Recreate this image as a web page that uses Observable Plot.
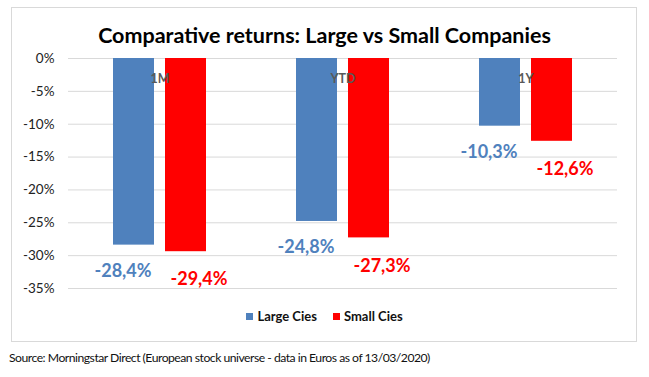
<!DOCTYPE html>
<html>
<head>
<meta charset="utf-8">
<script src="https://cdn.jsdelivr.net/npm/d3@7"></script>
<script src="https://cdn.jsdelivr.net/npm/@observablehq/plot@0.6"></script>
<style>
  html, body { margin: 0; padding: 0; background: #fff; }
  body { width: 649px; height: 377px; position: relative; overflow: hidden; font-family: Lato, "Open Sans", sans-serif; }
  #frame { position: absolute; left: 11px; top: 7px; width: 624px; height: 333px; border: 1px solid #d9d9d9; box-sizing: content-box; }
  #chart { position: absolute; left: 0; top: 0; }
  #title { position: absolute; left: 0; width: 649px; top: 21px; text-align: center; font-weight: bold; font-size: 21.5px; color: #000; line-height: 28px; }
  #legend { position: absolute; left: 0; width: 649px; top: 308px; text-align: center; font-size: 13px; font-weight: bold; color: #111; line-height: 16px; }
  #legend span.item { display: inline-block; margin: 0 8px; }
  #legend span.sw { display: inline-block; width: 7px; height: 7px; margin-right: 4px; vertical-align: 1px; }
  #caption { position: absolute; left: 9px; top: 349px; font-size: 12.2px; letter-spacing: -0.5px; color: #111; line-height: 18px; }
</style>
</head>
<body>
<div id="frame"></div>
<div id="chart"></div>
<div id="title">Comparative returns: Large vs Small Companies</div>
<div id="legend"></div>
<div id="caption">Source: Morningstar Direct (European stock universe - data in Euros as of 13/03/2020)</div>
<script>
const categories = ["1M", "YTD", "1Y"];
const seriesNames = ["Large Cies", "Small Cies"];
const largeCies = [-28.4, -24.8, -10.3];
const smallCies = [-29.4, -27.3, -12.6];
const yTicks = [0, -5, -10, -15, -20, -25, -30, -35];
const seriesColors = ["#4F81BD", "#FF0000"];

const rows = [];
categories.forEach((c, i) => {
  rows.push({cat: c, series: seriesNames[0], value: largeCies[i]});
  rows.push({cat: c, series: seriesNames[1], value: smallCies[i]});
});
const fmt = v => v.toFixed(1).replace(".", ",") + "%";

const plot = Plot.plot({
  width: 649,
  height: 377,
  marginLeft: 68,
  marginRight: 32,
  marginTop: 58,
  marginBottom: 89,
  style: {fontFamily: "Lato, 'Open Sans', sans-serif", background: "transparent"},
  fx: {domain: categories, padding: 0, axis: null},
  x: {domain: seriesNames, paddingInner: 0.2115, paddingOuter: 0.865, axis: null},
  y: {domain: [-35, 0], axis: null},
  color: {domain: seriesNames, range: seriesColors},
  marks: [
    Plot.gridY(yTicks, {stroke: "#d9d9d9", strokeOpacity: 1, strokeWidth: 1}),
    Plot.axisY(yTicks, {tickFormat: d => d + "%", tickSize: 0, tickPadding: 14, fontSize: 13.5, fill: "#222", label: null}),
    Plot.barY(rows, {fx: "cat", x: "series", y: "value", fill: "series"}),
    Plot.text(categories, {fx: d => d, text: d => d, frameAnchor: "top", dy: 16, fill: "#595959", fontWeight: "bold", fontSize: 12.5}),
    Plot.text(rows.filter(d => d.series === seriesNames[0]), {fx: "cat", x: "series", y: "value", text: d => fmt(d.value), dy: 26, dx: -11, fill: seriesColors[0], fontWeight: "bold", fontSize: 18}),
    Plot.text(rows.filter(d => d.series === seriesNames[1]), {fx: "cat", x: "series", y: "value", text: d => fmt(d.value), dy: 28, dx: 13, fill: seriesColors[1], fontWeight: "bold", fontSize: 18})
  ]
});
document.getElementById("chart").appendChild(plot);

const legend = document.getElementById("legend");
seriesNames.forEach((s, i) => {
  const item = document.createElement("span");
  item.className = "item";
  const sw = document.createElement("span");
  sw.className = "sw";
  sw.style.background = seriesColors[i];
  item.appendChild(sw);
  item.appendChild(document.createTextNode(s));
  legend.appendChild(item);
});
</script>
</body>
</html>
